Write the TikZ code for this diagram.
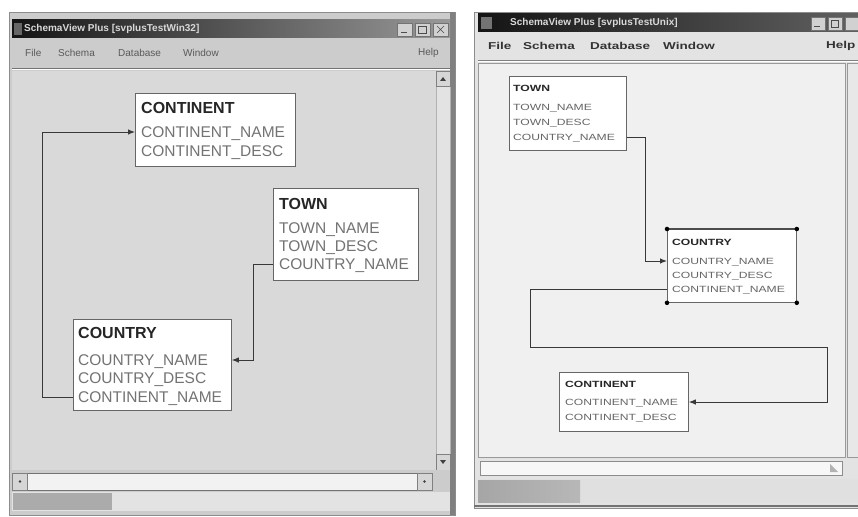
\documentclass[tikz,border=0pt]{standalone}
\usepackage{fontspec}
\setmainfont{Liberation Sans}
\newfontfamily\widefont[FakeStretch=1.35]{Liberation Sans}
\usetikzlibrary{arrows.meta}

\tikzset{
  tbl/.style={draw=black!60, fill=white, line width=0.8pt, anchor=north west,
              inner sep=0pt, minimum width=#1},
  ltitle/.style={anchor=west, inner sep=0pt, text height=11.5pt, text depth=0pt,
                 font=\fontsize{16}{18}\selectfont\bfseries, text=black!85},
  lfield/.style={anchor=west, inner sep=0pt, text height=11pt, text depth=0pt,
                 font=\fontsize{15.5}{18}\selectfont, text=black!55},
  rtitle/.style={anchor=west, inner sep=0pt, text height=6.5pt, text depth=0pt,
                 font=\widefont\fontsize{9}{10}\selectfont\bfseries, text=black!85},
  rfield/.style={anchor=west, inner sep=0pt, text height=6.5pt, text depth=0pt,
                 font=\widefont\fontsize{9}{10}\selectfont, text=black!60},
  link/.style={draw=black!78, line width=1pt, -{Latex[length=7pt,width=5.5pt]}},
  wintitle/.style={anchor=west, inner sep=0pt, text=white!85!black,
                   font=\fontsize{10}{12}\selectfont\bfseries},
  lmenu/.style={anchor=west, inner sep=0pt, text=black!65,
                font=\fontsize{10}{12}\selectfont},
  rmenu/.style={anchor=west, inner sep=0pt, text=black!80,
                font=\widefont\fontsize{10}{12}\selectfont\bfseries},
  winbtn/.style={fill=black!18, draw=black!55, line width=0.6pt},
  sbtn/.style={fill=black!16, draw=black!50, line width=0.5pt},
  grip/.style={fill=black, circle, inner sep=1.6pt},
}

\begin{document}
\begin{tikzpicture}[x=1pt, y=-1pt]
\useasboundingbox (0,0) rectangle (858,516);
\fill[white] (0,0) rectangle (858,516);

% ===================== Win32 window =====================
\filldraw[fill=black!20, draw=black!45] (9,12) rectangle (455,515);
\fill[black!50] (450,12) rectangle (455,515);
\shade[left color=black!92, right color=black!40] (12,20) rectangle (450,38);
\fill[black!60] (14,23) rectangle (22,35);
\node[wintitle] (ltitlebar) at (24,29) {SchemaView Plus [svplusTestWin32]};
\draw[winbtn] (397,23) rectangle (412,36);
\draw[winbtn] (415,23) rectangle (430,36);
\draw[winbtn] (433,23) rectangle (448,36);
\draw[black!70, line width=1pt] (401,33) -- (407,33);
\draw[black!70] (418.5,26) rectangle (426.5,33);
\draw[black!70] (437,26) -- (444,33) (444,26) -- (437,33);

\node[lmenu] (lmfile) at (25,53) {File};
\node[lmenu] (lmschema) at (58,53) {Schema};
\node[lmenu] (lmdb) at (118,53) {Database};
\node[lmenu] (lmwin) at (183,53) {Window};
\node[lmenu] (lmhelp) at (418,53) {Help};
\draw[black!55] (12,68) -- (450,68);
\draw[white] (12,69.5) -- (450,69.5);

% drawing area and scroll bars
\fill[black!15] (12,71) rectangle (436,470);
\filldraw[fill=black!11, draw=black!30] (436,71) rectangle (450,470);
\draw[sbtn] (436,71) rectangle (450,86);
\fill[black!75] (440,81) -- (446,81) -- (443,77) -- cycle;
\draw[sbtn] (436,454) rectangle (450,470);
\fill[black!75] (440,460) -- (446,460) -- (443,464) -- cycle;
\fill[black!20] (432,470) rectangle (450,490);
\filldraw[fill=black!5, draw=black!55] (12,473) rectangle (432,490);
\draw[sbtn] (12,473) rectangle (27,490);
\fill[black!75] (20,481.5) circle (1.3);
\draw[sbtn] (417,473) rectangle (432,490);
\fill[black!75] (424.5,481.5) circle (1.3);
\fill[black!11] (12,492) rectangle (450,511);
\fill[black!33] (13,493) rectangle (112,510);

% tables
\node[tbl=160pt, minimum height=73pt] (lcont) at (135,93) {};
\node[ltitle] (lcontT) at (141,108) {CONTINENT};
\node[lfield] (lcontN) at (141,132) {CONTINENT\_NAME};
\node[lfield] (lcontD) at (141,151) {CONTINENT\_DESC};

\node[tbl=145pt, minimum height=92pt] (ltown) at (273,188) {};
\node[ltitle] (ltownT) at (279,204) {TOWN};
\node[lfield] (ltownN) at (279,228) {TOWN\_NAME};
\node[lfield] (ltownD) at (279,246) {TOWN\_DESC};
\node[lfield] (ltownC) at (279,264) {COUNTRY\_NAME};

\node[tbl=158pt, minimum height=91pt] (lcountry) at (73,319) {};
\node[ltitle] (lcountryT) at (78,333) {COUNTRY};
\node[lfield] (lcountryN) at (78,360) {COUNTRY\_NAME};
\node[lfield] (lcountryD) at (78,378) {COUNTRY\_DESC};
\node[lfield] (lcountryC) at (78,397) {CONTINENT\_NAME};

% relations
\draw[link] (lcountry.west |- lcountryC) -- ++(-31,0) |- (lcont.west |- lcontN);
\draw[link] (ltown.west |- ltownC) -- ++(-20,0) |- (lcountry.east |- lcountryN);

% ===================== Unix window =====================
\filldraw[fill=black!11, draw=black!45] (474,12) rectangle (860,508);
\shade[left color=black!92, right color=black!62] (478,14) rectangle (860,32);
\fill[black!55] (481,17) rectangle (492,29);
\node[wintitle] (rtitlebar) at (510,23) {SchemaView Plus [svplusTestUnix]};
\draw[winbtn] (811,17) rectangle (825,30);
\draw[winbtn] (828,17) rectangle (842,30);
\draw[winbtn] (845,17) rectangle (859,30);
\draw[black!70, line width=1pt] (814,27) -- (820,27);
\draw[black!70] (831.5,20) rectangle (838.5,27);

\node[rmenu] (rmfile) at (488,46) {File};
\node[rmenu] (rmschema) at (523,46) {Schema};
\node[rmenu] (rmdb) at (590,46) {Database};
\node[rmenu] (rmwin) at (663,46) {Window};
\node[rmenu] (rmhelp) at (826,46) {Help};
\draw[black!50] (478,60) -- (860,60);
\draw[white] (478,61.5) -- (860,61.5);

\filldraw[fill=black!6, draw=black!40] (478,63) rectangle (845,457);
\filldraw[fill=black!9, draw=black!40] (847,63) rectangle (858,457);
\filldraw[fill=black!3, draw=black!45] (480,461) rectangle (842,475);
\fill[black!30] (830,464) -- (838,472) -- (830,472) -- cycle;
\fill[black!12] (478,479) rectangle (858,503);
\shade[left color=black!35, right color=black!28] (478,480) rectangle (580,502);
\draw[black!55, line width=1.5pt] (474,506) -- (860,506);

% tables
\node[tbl=117pt, minimum height=74pt] (rtown) at (509,76) {};
\node[rtitle] (rtownT) at (513,88) {TOWN};
\node[rfield] (rtownN) at (513,107) {TOWN\_NAME};
\node[rfield] (rtownD) at (513,122) {TOWN\_DESC};
\node[rfield] (rtownC) at (513,137) {COUNTRY\_NAME};

\node[tbl=129pt, minimum height=73pt] (rcountry) at (667,229) {};
\draw[black!70, line width=1.4pt] (rcountry.north west) -- (rcountry.north east);
\node[rtitle] (rcountryT) at (672,242) {COUNTRY};
\node[rfield] (rcountryN) at (672,261) {COUNTRY\_NAME};
\node[rfield] (rcountryD) at (672,275) {COUNTRY\_DESC};
\node[rfield] (rcountryC) at (672,289) {CONTINENT\_NAME};
\node[grip] (g1) at (rcountry.north west) {};
\node[grip] (g2) at (rcountry.north east) {};
\node[grip] (g3) at (rcountry.south west) {};
\node[grip] (g4) at (rcountry.south east) {};

\node[tbl=129pt, minimum height=59pt] (rcont) at (559,372) {};
\node[rtitle] (rcontT) at (565,384) {CONTINENT};
\node[rfield] (rcontN) at (565,402) {CONTINENT\_NAME};
\node[rfield] (rcontD) at (565,417) {CONTINENT\_DESC};

% relations
\draw[link] (rtown.east |- rtownC) -- ++(19,0) |- (rcountry.west |- rcountryN);
\coordinate (rbendA) at (530,347);
\coordinate (rbendB) at (827,347);
\draw[link] (rcountry.west |- rcountryC) -| (rbendA) -- (rbendB) |- (rcont.east |- rcontN);
\end{tikzpicture}
\end{document}
